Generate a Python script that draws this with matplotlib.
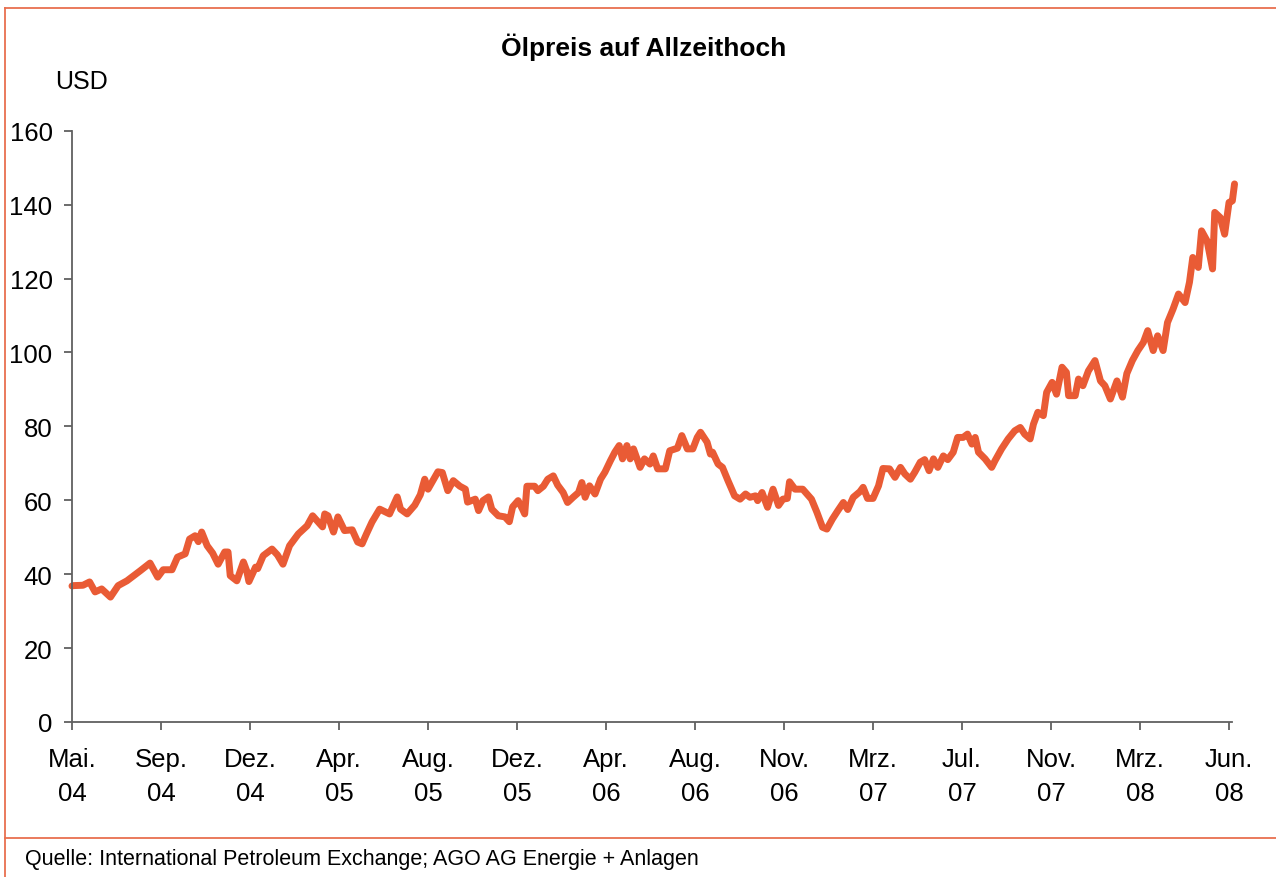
import matplotlib
matplotlib.use("Agg")
import matplotlib.pyplot as plt
from matplotlib.lines import Line2D

plt.rcParams['font.family'] = ['Liberation Sans', 'DejaVu Sans']

# trading-day index (ticks every 81 trading days) and oil price in USD
days = [0, 1, 10, 16, 21, 27, 35, 42, 50, 62, 71, 78, 83, 91, 96, 103, 107, 112, 115, 118,
        123, 128, 133, 139, 142, 144, 150, 156, 159, 161, 167, 169, 174, 182, 187, 192, 198,
        206, 214, 219, 228, 230, 233, 238, 242, 248, 255, 260, 264, 268, 273, 280, 289, 296,
        299, 305, 312, 317, 321, 324, 333, 337, 342, 347, 353, 358, 360, 367, 370, 374, 379,
        382, 388, 394, 398, 401, 406, 410, 412, 414, 421, 424, 429, 433, 438, 442, 447, 451,
        456, 461, 464, 467, 471, 476, 481, 485, 490, 494, 498, 501, 505, 508, 511, 517, 521,
        526, 529, 533, 540, 544, 551, 555, 560, 565, 569, 572, 578, 581, 583, 588, 592, 597,
        603, 608, 613, 617, 622, 624, 628, 633, 638, 643, 647, 651, 653, 658, 665, 673, 678,
        683, 687, 692, 697, 702, 706, 711, 717, 720, 724, 729, 734, 738, 744, 749, 754, 758,
        763, 767, 772, 776, 780, 784, 788, 793, 797, 802, 806, 811, 815, 819, 822, 825, 831,
        837, 840, 846, 852, 858, 863, 867, 872, 875, 879, 884, 887, 892, 896, 901, 905, 907,
        913, 916, 920, 925, 931, 936, 940, 945, 951, 956, 960, 965, 970, 975, 979, 984, 988,
        993, 997, 1002, 1007, 1013, 1017, 1020, 1025, 1028, 1033, 1038, 1040, 1045, 1049,
        1053, 1056, 1058]
price = [36.8, 36.9, 37.0, 37.9, 35.2, 36.0, 33.8, 36.9, 38.2, 40.9, 43.0, 39.2, 41.2, 41.2,
         44.6, 45.5, 49.5, 50.4, 48.8, 51.4, 47.7, 45.7, 42.7, 46.0, 46.0, 39.6, 38.2, 43.3,
         40.9, 38.0, 41.9, 41.5, 45.0, 46.8, 45.2, 42.7, 47.7, 50.9, 53.1, 55.8, 52.8, 56.3,
         55.8, 51.4, 55.5, 51.8, 52.0, 48.7, 48.2, 50.9, 54.1, 57.6, 56.3, 60.9, 57.6, 56.3,
         58.7, 61.5, 65.7, 63.0, 67.7, 67.5, 62.6, 65.3, 63.8, 63.0, 59.5, 60.3, 57.2, 59.9,
         60.9, 57.6, 55.8, 55.5, 54.2, 58.2, 59.9, 57.6, 56.3, 63.8, 63.8, 62.6, 63.8, 65.7,
         66.6, 64.1, 62.1, 59.4, 60.8, 62.1, 64.8, 60.8, 63.9, 61.7, 65.7, 67.6, 70.7, 73.0,
         74.8, 71.2, 74.8, 71.2, 73.9, 68.9, 71.2, 69.8, 72.0, 68.5, 68.5, 73.4, 74.1, 77.5,
         73.9, 73.9, 77.0, 78.4, 75.7, 72.5, 73.0, 69.8, 68.9, 65.3, 61.2, 60.3, 61.7, 60.8,
         61.2, 59.9, 62.1, 58.1, 63.0, 58.6, 60.3, 60.5, 65.0, 63.0, 63.0, 60.3, 56.7, 52.7,
         52.2, 54.9, 57.2, 59.4, 57.5, 60.8, 62.3, 63.5, 60.5, 60.5, 63.9, 68.6, 68.5, 66.2,
         68.9, 67.1, 65.7, 67.6, 70.3, 71.0, 68.0, 71.2, 68.9, 72.0, 71.0, 73.0, 77.0, 77.0,
         77.9, 75.2, 77.0, 73.0, 71.2, 68.9, 70.7, 73.9, 76.6, 78.8, 79.7, 77.9, 76.6, 80.6,
         83.8, 82.9, 89.2, 91.9, 88.7, 96.0, 94.6, 88.3, 88.3, 92.8, 91.0, 95.0, 97.8, 92.3,
         91.0, 87.4, 92.3, 87.9, 94.3, 97.8, 100.5, 102.7, 105.9, 100.5, 104.5, 100.5, 108.1,
         111.7, 115.8, 113.5, 119.0, 125.7, 123.0, 132.9, 130.2, 122.6, 137.9, 136.5, 132.0,
         140.6, 141.0, 145.6]

tick_step = 81
tick_labels = ["Mai.\n04", "Sep.\n04", "Dez.\n04", "Apr.\n05", "Aug.\n05", "Dez.\n05",
               "Apr.\n06", "Aug.\n06", "Nov.\n06", "Mrz.\n07", "Jul.\n07", "Nov.\n07",
               "Mrz.\n08", "Jun.\n08"]
y_ticks = [0, 20, 40, 60, 80, 100, 120, 140, 160]

W, H = 1276, 878
fig = plt.figure(figsize=(W / 100, H / 100), dpi=100)
ax = fig.add_axes([72 / W, 1 - 723 / H, (1232 - 72) / W, (723 - 131.7) / H])

ax.plot(days, price, color="#E95B35", lw=5.0, solid_joinstyle="round",
        solid_capstyle="round", clip_on=False)

ax.set_ylim(0, 160)
ax.set_xlim(0, 1055.7)
ax.set_yticks(y_ticks)
ax.set_xticks([i * tick_step for i in range(len(tick_labels))])
ax.set_xticklabels(tick_labels, linespacing=1.55)

for s in ["top", "right"]:
    ax.spines[s].set_visible(False)
for s in ["left", "bottom"]:
    ax.spines[s].set_color("#606060")
    ax.spines[s].set_linewidth(1.3)
ax.tick_params(axis="both", direction="out", length=6, width=1.3, color="#606060",
               labelsize=18.5, labelcolor="black")
ax.tick_params(axis="y", pad=8)
ax.tick_params(axis="x", pad=12)

fig.text(644 / W, 1 - 47 / H, "Ölpreis auf Allzeithoch", ha="center", va="center",
         fontsize=19, fontweight="bold")
fig.text(55 / W, 1 - 82 / H, "USD", ha="left", va="center", fontsize=18)
fig.text(25 / W, 1 - 860 / H, "Quelle: International Petroleum Exchange; AGO AG Energie + Anlagen",
         ha="left", va="center", fontsize=15.5)

border = "#E8704F"
fig.add_artist(Line2D([5 / W, 5 / W], [0, 1 - 9 / H], color=border, lw=1.3,
                      transform=fig.transFigure))
fig.add_artist(Line2D([5 / W, 1], [1 - 9 / H, 1 - 9 / H], color=border, lw=1.3,
                      transform=fig.transFigure))
fig.add_artist(Line2D([5 / W, 1], [1 - 839 / H, 1 - 839 / H], color=border, lw=1.3,
                      transform=fig.transFigure))

fig.savefig("out.png", dpi=100)
